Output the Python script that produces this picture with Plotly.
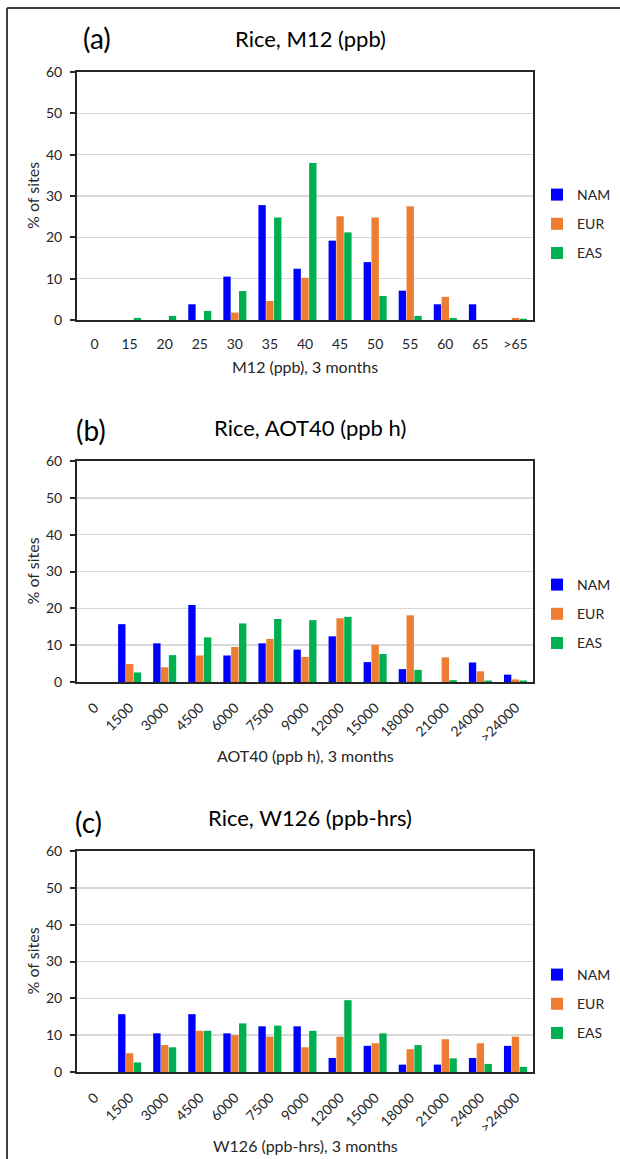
import plotly.graph_objects as go

# ---------------- data ----------------
m12_cats = ["0", "15", "20", "25", "30", "35", "40", "45", "50", "55", "60", "65", ">65"]
m12_nam = [0, 0, 0, 3.8, 10.5, 27.8, 12.4, 19.2, 14.0, 7.1, 3.8, 3.8, 0]
m12_eur = [0, 0, 0, 0, 1.8, 4.6, 10.2, 25.1, 24.8, 27.5, 5.6, 0, 0.5]
m12_eas = [0, 0.5, 1.0, 2.2, 7.0, 24.8, 38.0, 21.2, 5.8, 1.0, 0.5, 0, 0.3]

aot_cats = ["0", "1500", "3000", "4500", "6000", "7500", "9000", "12000",
            "15000", "18000", "21000", "24000", ">24000"]
aot_nam = [0, 15.7, 10.5, 20.9, 7.2, 10.5, 8.8, 12.4, 5.4, 3.5, 0, 5.3, 2.0]
aot_eur = [0, 4.9, 4.0, 7.2, 9.5, 11.7, 6.8, 17.3, 10.1, 18.1, 6.7, 2.9, 0.7]
aot_eas = [0, 2.6, 7.3, 12.1, 15.9, 17.1, 16.8, 17.7, 7.6, 3.3, 0.5, 0.4, 0.4]

w126_cats = ["0", "1500", "3000", "4500", "6000", "7500", "9000", "12000",
             "15000", "18000", "21000", "24000", ">24000"]
w126_nam = [0, 15.7, 10.5, 15.7, 10.5, 12.4, 12.4, 3.8, 7.1, 2.0, 2.0, 3.8, 7.1]
w126_eur = [0, 5.1, 7.3, 11.2, 10.0, 9.6, 6.7, 9.6, 7.8, 6.2, 8.9, 7.8, 9.6]
w126_eas = [0, 2.6, 6.7, 11.2, 13.2, 12.6, 11.2, 19.5, 10.5, 7.3, 3.7, 2.2, 1.4]

series_names = ["NAM", "EUR", "EAS"]
series_colors = ["#0000FF", "#ED7D31", "#00B050"]

panel_titles = ["Rice, M12 (ppb)", "Rice, AOT40 (ppb h)", "Rice, W126 (ppb-hrs)"]
panel_letters = ["(a)", "(b)", "(c)"]
x_titles = ["M12 (ppb), 3 months", "AOT40 (ppb h), 3 months", "W126 (ppb-hrs), 3 months"]
y_title = "% of sites"
y_ticks = [0, 10, 20, 30, 40, 50, 60]

# ---------------- layout geometry (pixels) ----------------
W, H = 620, 1159
FONT = "Lato"
TXT = "#262626"

def px_x(x):
    return x / W

def px_y(y):
    return 1 - y / H

plot_left, plot_right = 77, 533
panels = [
    dict(top=72, bottom=320, title_y=38, letter_x=97, letter_y=38, xt_y=367, angle=0,
         legend_y=224, xstand=10),
    dict(top=461, bottom=682, title_y=427, letter_x=91, letter_y=430, xt_y=755, angle=-45,
         legend_y=614, xstand=10),
    dict(top=851, bottom=1072, title_y=817, letter_x=88, letter_y=822, xt_y=1145, angle=-45,
         legend_y=1004, xstand=10),
]

data = [
    (m12_cats, [m12_nam, m12_eur, m12_eas]),
    (aot_cats, [aot_nam, aot_eur, aot_eas]),
    (w126_cats, [w126_nam, w126_eur, w126_eas]),
]

fig = go.Figure()
annotations = []
layout = {}

for i, (cats, vals) in enumerate(data):
    n = i + 1
    suffix = "" if n == 1 else str(n)
    leg = "legend" if n == 1 else f"legend{n}"
    for name, v, c in zip(series_names, vals, series_colors):
        fig.add_trace(go.Bar(
            x=cats, y=v, name=name, marker=dict(color=c, line=dict(width=0)),
            xaxis=f"x{suffix}", yaxis=f"y{suffix}", legend=leg,
            legendgroup=f"{name}{n}", hoverinfo="skip",
        ))
    p = panels[i]
    layout[f"xaxis{suffix}"] = dict(
        domain=[px_x(plot_left), px_x(plot_right)], anchor=f"y{suffix}",
        type="category", categoryorder="array", categoryarray=cats,
        showline=True, linecolor="#262626", linewidth=2, mirror=True,
        ticks="", showgrid=False, tickangle=p["angle"], ticklabelstandoff=p["xstand"],
        tickfont=dict(family=FONT, size=14, color=TXT), fixedrange=True, automargin=False,
    )
    layout[f"yaxis{suffix}"] = dict(
        domain=[px_y(p["bottom"]), px_y(p["top"])], anchor=f"x{suffix}",
        range=[0, 60], tickvals=y_ticks, showline=True, linecolor="#262626",
        linewidth=2, mirror=True, ticks="outside", ticklen=5, tickwidth=2,
        tickcolor="#262626", showgrid=True, gridcolor="#D9D9D9", gridwidth=1.5,
        zeroline=False, ticklabelstandoff=5, automargin=False,
        tickfont=dict(family=FONT, size=14, color=TXT), fixedrange=True,
    )
    layout[leg] = dict(
        x=px_x(537), y=px_y(p["legend_y"]), xanchor="left", yanchor="middle",
        traceorder="grouped", tracegroupgap=8, itemwidth=30,
        font=dict(family=FONT, size=14, color=TXT), bgcolor="rgba(0,0,0,0)",
    )
    annotations += [
        dict(text=panel_titles[i], x=px_x(310), y=px_y(p["title_y"]), xref="paper", yref="paper",
             showarrow=False, xanchor="center", yanchor="middle",
             font=dict(family=FONT, size=22, color="#000000")),
        dict(text=panel_letters[i], x=px_x(p["letter_x"]), y=px_y(p["letter_y"]), xref="paper",
             yref="paper", showarrow=False, xanchor="center", yanchor="middle",
             font=dict(family=FONT, size=28, color="#000000")),
        dict(text=x_titles[i], x=px_x(305), y=px_y(p["xt_y"]), xref="paper", yref="paper",
             showarrow=False, xanchor="center", yanchor="middle",
             font=dict(family=FONT, size=16, color=TXT)),
        dict(text=y_title, x=px_x(32), y=px_y((p["top"] + p["bottom"]) / 2), xref="paper",
             yref="paper", showarrow=False, xanchor="center", yanchor="middle", textangle=-90,
             font=dict(family=FONT, size=16, color=TXT)),
    ]

shapes = [
    dict(type="line", xref="paper", yref="paper", x0=px_x(7), x1=1, y0=px_y(8), y1=px_y(8),
         line=dict(color="#404040", width=2)),
    dict(type="line", xref="paper", yref="paper", x0=px_x(7), x1=px_x(7), y0=px_y(8), y1=0,
         line=dict(color="#404040", width=2)),
]

fig.update_layout(
    width=W, height=H, margin=dict(l=0, r=0, t=0, b=0, autoexpand=False),
    paper_bgcolor="white", plot_bgcolor="white",
    barmode="group", bargap=0.33, bargroupgap=0.06,
    annotations=annotations, shapes=shapes, showlegend=True,
    **layout,
)

fig.write_html(
    "out.html",
    config={"displayModeBar": False, "staticPlot": True},
    post_script="document.body.style.margin='0';document.body.style.padding='0';"
                "document.documentElement.style.overflow='hidden';",
)
